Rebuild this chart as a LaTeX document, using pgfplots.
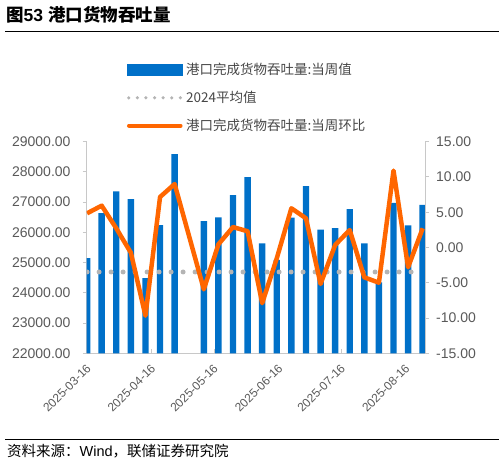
\documentclass[border=0pt]{standalone}
\usepackage{fontspec}
\setmainfont{Liberation Sans}
\newfontfamily\cjk{Noto Sans CJK SC}
\usepackage{pgfplots}
\pgfplotsset{compat=1.18}
\definecolor{barblue}{RGB}{0,112,200}
\definecolor{lineorange}{RGB}{255,102,0}
\definecolor{dotgray}{RGB}{180,180,180}
\definecolor{axgray}{RGB}{200,200,200}
\definecolor{tickgray}{RGB}{89,89,89}
\definecolor{leggray}{RGB}{70,70,70}
\begin{document}
\begin{tikzpicture}
\path[use as bounding box] (0pt,0pt) rectangle (504pt,464pt);
\node[anchor=west, inner sep=0pt] at (6pt,449pt) {\fontsize{17.5}{20}\selectfont{\cjk\bfseries 图}\textbf{53} {\cjk\bfseries 港口货物吞吐量}};
\draw[black, line width=1pt] (5pt,432.7pt) -- (499pt,432.7pt);
\draw[black, line width=1pt] (5pt,24.7pt) -- (499pt,24.7pt);
\node[anchor=west, inner sep=0pt] at (7pt,13pt) {\fontsize{14.5}{16}\selectfont{\cjk 资料来源：}Wind{\cjk ，联储证券研究院}};
\begin{axis}[
  at={(86.7pt,110.7pt)}, anchor=south west, scale only axis,
  width=338.3pt, height=211.6pt,
  xmin=-0.027, xmax=23.158, ymin=22000, ymax=29000,
  axis x line*=bottom, axis y line*=left,
  axis line style={axgray, line width=1pt},
  ytick={22000,23000,24000,25000,26000,27000,28000,29000},
  scaled y ticks=false,
  xtick={0,4.4286,8.7143,13.1429,17.4286,21.8571},
  xticklabels={2025-03-16,2025-04-16,2025-05-16,2025-06-16,2025-07-16,2025-08-16},
  tick align=inside, major tick length=4pt,
  tick style={axgray, line width=1pt},
  ytick style={xshift=-4pt},
  /pgf/number format/fixed, /pgf/number format/fixed zerofill,
  /pgf/number format/precision=2, /pgf/number format/1000 sep={},
  /pgf/number format/assume math mode=true,
  yticklabel style={font=\fontsize{14}{16}\selectfont, color=tickgray, anchor=east, inner sep=0pt, xshift=-16pt},
  xticklabel style={font=\fontsize{12}{14}\selectfont, color=tickgray, inner sep=0pt, yshift=-10pt, xshift=-1.5pt, rotate=45, anchor=north east},
  legend style={at={(rel axis cs:0.1191,1.3696)}, anchor=north west, draw=none, fill=none,
    inner sep=0pt, outer sep=0pt, row sep=14.9pt, column sep=3.5pt,
    font=\fontsize{13.5}{15}\selectfont\cjk, text=leggray,
    nodes={inner sep=0pt}},
  legend cell align=left,
]
\addplot[ybar, bar width=6.4pt, fill=barblue, draw=none,
  legend image code/.code={\fill[barblue] (0pt,-5.85pt) rectangle (55.6pt,5.85pt);}]
  coordinates {
  (0,25150) (1,26640) (2,27360) (3,27100) (4,24490) (5,26240) (6,28590)
  (8,26370) (9,26500) (10,27230) (11,27830) (12,25640) (13,25090) (14,26490)
  (15,27530) (16,26090) (17,26140) (18,26770) (19,25640) (20,24350) (21,26980)
  (22,26230) (23,26910)};
\addlegendentry{港口完成货物吞吐量:当周值}
\addplot[dotgray, line width=5pt, dash pattern=on 0pt off 12pt, line cap=round,
  legend image code/.code={\draw[dotgray, line width=3.5pt, dash pattern=on 0pt off 8.6pt, line cap=round] (1.75pt,0pt) -- (53.85pt,0pt);}]
  coordinates {
  (0,24690) (1,24690) (2,24690) (3,24690) (4,24690) (5,24690) (6,24690) (7,24690)
  (8,24690) (9,24690) (10,24690) (11,24690) (12,24690) (13,24690) (14,24690)
  (15,24690) (16,24690) (17,24690) (18,24690) (19,24690) (20,24690) (21,24690)
  (22,24690) (23,24690)};
\addlegendentry{2024平均值}
\addlegendimage{legend image code/.code={\draw[lineorange, line width=4pt, line cap=round] (2pt,0pt) -- (53.6pt,0pt);}}
\addlegendentry{港口完成货物吞吐量:当周环比}
\end{axis}
\begin{axis}[
  at={(86.7pt,110.7pt)}, anchor=south west, scale only axis,
  width=338.3pt, height=211.6pt,
  xmin=-0.027, xmax=23.158, ymin=-15, ymax=15,
  axis y line*=right, axis x line=none,
  axis line style={axgray, line width=1pt},
  ytick={-15,-10,-5,0,5,10,15},
  tick align=inside, major tick length=4pt,
  tick style={axgray, line width=1pt},
  ytick style={xshift=4pt},
  /pgf/number format/fixed, /pgf/number format/fixed zerofill,
  /pgf/number format/precision=2, /pgf/number format/1000 sep={},
  /pgf/number format/assume math mode=true,
  yticklabel style={font=\fontsize{14}{16}\selectfont, color=tickgray, anchor=west, inner sep=0pt, xshift=11pt},
]
\addplot[lineorange, line width=4.5pt, line join=round] coordinates {
  (0,4.85) (1,5.93) (2,2.72) (3,-0.74) (4,-9.67) (5,7.16) (6,9.0)
  (8,-5.93) (9,0.45) (10,2.9) (11,2.3) (12,-7.9) (13,-1.53) (14,5.56)
  (15,4.14) (16,-5.17) (17,0.35) (18,2.48) (19,-4.23) (20,-4.99) (21,10.9)
  (22,-2.81) (23,2.72)};
\end{axis}
\end{tikzpicture}
\end{document}
